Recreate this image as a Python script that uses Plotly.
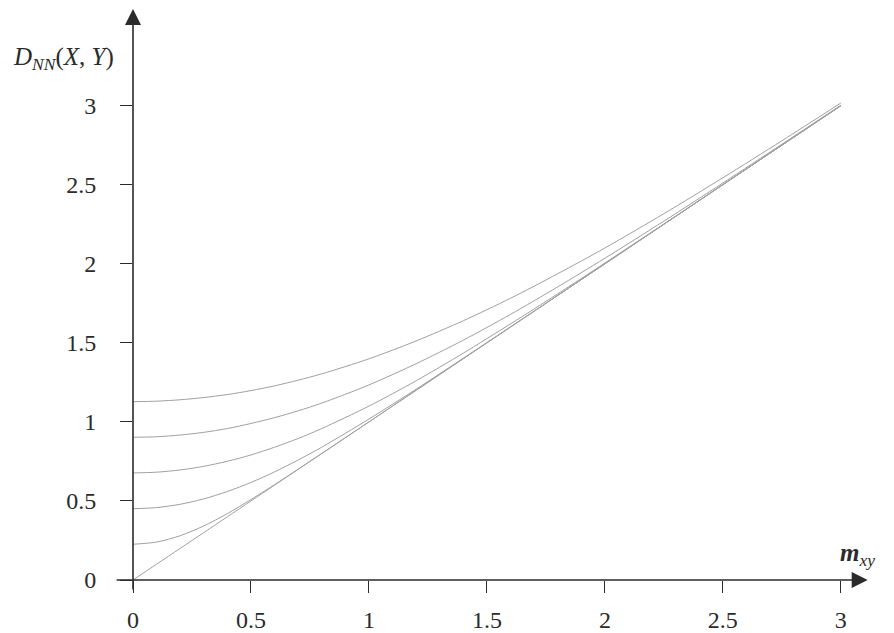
import plotly.graph_objects as go

# mean difference m_xy
m_xy = [0, 0.1, 0.2, 0.3, 0.4, 0.5, 0.6, 0.7, 0.8, 1.0, 1.2, 1.4, 1.6, 1.8, 2.0, 2.25, 2.5, 2.75, 3.0]

# D_NN(X, Y) curves
d_top = [1.128, 1.131, 1.140, 1.154, 1.173, 1.198, 1.228, 1.264, 1.304, 1.399, 1.512, 1.640, 1.782, 1.937, 2.100, 2.317, 2.544, 2.778, 3.017]
d_2 = [0.903, 0.906, 0.917, 0.934, 0.958, 0.990, 1.027, 1.070, 1.119, 1.234, 1.368, 1.517, 1.680, 1.854, 2.035, 2.270, 2.511, 2.756, 3.003]
d_3 = [0.677, 0.682, 0.696, 0.719, 0.751, 0.791, 0.840, 0.895, 0.958, 1.100, 1.260, 1.435, 1.620, 1.810, 2.005, 2.252, 2.501, 2.750, 3.000]
d_4 = [0.451, 0.458, 0.479, 0.513, 0.560, 0.617, 0.684, 0.759, 0.840, 1.018, 1.207, 1.403, 1.601, 1.800, 2.000, 2.250, 2.500, 2.750, 3.000]
d_5 = [0.226, 0.240, 0.280, 0.342, 0.420, 0.509, 0.603, 0.701, 0.800, 1.000, 1.200, 1.400, 1.600, 1.800, 2.000, 2.250, 2.500, 2.750, 3.000]
d_line = [0, 0.1, 0.2, 0.3, 0.4, 0.5, 0.6, 0.7, 0.8, 1.0, 1.2, 1.4, 1.6, 1.8, 2.0, 2.25, 2.5, 2.75, 3.0]

tick_vals = [0, 0.5, 1, 1.5, 2, 2.5, 3]
tick_text = ["0", "0.5", "1", "1.5", "2", "2.5", "3"]

curve_color = "#a0a0a0"
axis_color = "#2b2b2b"
font_family = "Liberation Serif, serif"

fig = go.Figure()
for ys in [d_top, d_2, d_3, d_4, d_5, d_line]:
    fig.add_trace(go.Scatter(
        x=m_xy, y=ys, mode="lines",
        line=dict(color=curve_color, width=1, shape="spline", smoothing=0.8),
        hoverinfo="skip", showlegend=False,
    ))

# axis lines with arrow heads
fig.add_annotation(x=3.114, y=0, ax=-0.076, ay=0, xref="x", yref="y",
                   axref="x", ayref="y", text="", showarrow=True,
                   arrowhead=2, arrowsize=2.0, arrowwidth=1.6, arrowcolor=axis_color)
fig.add_annotation(x=0, y=3.612, ax=0, ay=-0.07, xref="x", yref="y",
                   axref="x", ayref="y", text="", showarrow=True,
                   arrowhead=2, arrowsize=2.0, arrowwidth=1.6, arrowcolor=axis_color)

# axis titles
fig.add_annotation(x=-0.0927, y=3.30, xref="paper", yref="y", showarrow=False,
                   xanchor="center", yanchor="middle",
                   text="<i>D</i><sub><i>NN</i></sub>(<i>X</i>, <i>Y</i>)",
                   font=dict(family=font_family, size=25, color=axis_color))
fig.add_annotation(x=3.07, y=0.16, xref="x", yref="y", showarrow=False,
                   text="<b><i>m</i></b><sub><i>xy</i></sub>",
                   font=dict(family=font_family, size=25, color=axis_color))

fig.update_xaxes(range=[0, 3.2], tickvals=tick_vals, ticktext=tick_text,
                 ticks="outside", ticklen=12, tickwidth=1.2, tickcolor=axis_color,
                 showgrid=False, zeroline=False, showline=False,
                 ticklabelstandoff=6,
                 tickfont=dict(family=font_family, size=24, color=axis_color))
fig.update_yaxes(range=[0, 3.618], tickvals=tick_vals, ticktext=tick_text,
                 ticks="outside", ticklen=12, tickwidth=1.2, tickcolor=axis_color,
                 showgrid=False, zeroline=False, showline=False,
                 ticklabelstandoff=19,
                 tickfont=dict(family=font_family, size=24, color=axis_color))

fig.update_layout(
    width=886, height=625,
    margin=dict(l=125, r=6, t=0, b=51),
    plot_bgcolor="white", paper_bgcolor="white",
    hovermode=False,
)

fig.write_html("out.html")
